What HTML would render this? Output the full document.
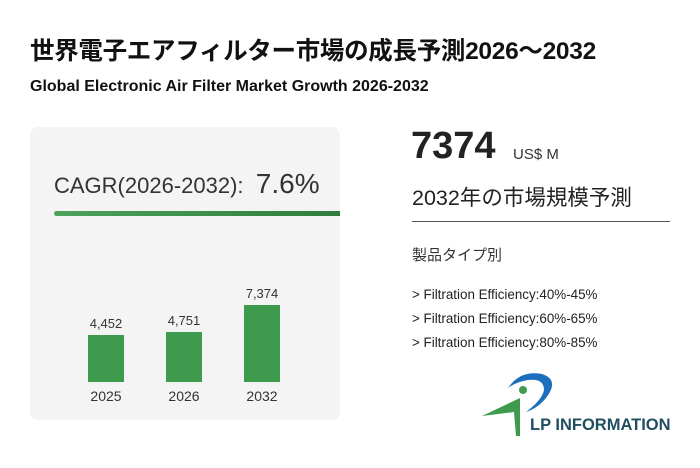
<!DOCTYPE html>
<html><head><meta charset="utf-8"><style>
body{margin:0;width:700px;height:468px;background:#fff;position:relative;overflow:hidden;font-family:"Liberation Sans","Noto Sans CJK JP",sans-serif;color:#222}
.a{position:absolute;white-space:nowrap}
</style></head><body>
<div class="a" style="left:30px;top:32px;font-size:24.5px;font-weight:bold;color:#111;letter-spacing:-0.3px">世界電子エアフィルター市場の成長予測2026～2032</div>
<div class="a" style="left:30px;top:78px;font-size:16px;font-weight:bold;color:#111">Global Electronic Air Filter Market Growth 2026-2032</div>
<div class="a" style="left:30px;top:127px;width:310px;height:293px;background:#f4f4f4;border-radius:8px"></div>
<div class="a" style="left:54px;top:168px;font-size:22px;color:#333">CAGR(2026-2032):&nbsp; <span style="font-size:28px">7.6%</span></div>
<div class="a" style="left:54px;top:211px;width:286px;height:5px;background:linear-gradient(90deg,#4ca35a,#2e7d3c);border-radius:3px 0 0 3px"></div>
<div class="a" style="left:88px;top:335px;width:36px;height:47px;background:#3e9a4d"></div>
<div class="a" style="left:166px;top:332px;width:36px;height:50px;background:#3e9a4d"></div>
<div class="a" style="left:244px;top:305px;width:36px;height:77px;background:#3e9a4d"></div>
<div class="a" style="left:76px;top:316px;width:60px;text-align:center;font-size:13px;color:#333">4,452</div>
<div class="a" style="left:154px;top:313px;width:60px;text-align:center;font-size:13px;color:#333">4,751</div>
<div class="a" style="left:232px;top:286px;width:60px;text-align:center;font-size:13px;color:#333">7,374</div>
<div class="a" style="left:76px;top:388px;width:60px;text-align:center;font-size:14px;color:#333">2025</div>
<div class="a" style="left:154px;top:388px;width:60px;text-align:center;font-size:14px;color:#333">2026</div>
<div class="a" style="left:232px;top:388px;width:60px;text-align:center;font-size:14px;color:#333">2032</div>
<div class="a" style="left:411px;top:125px;font-size:38px;font-weight:bold;color:#222">7374</div>
<div class="a" style="left:513px;top:146px;font-size:15px;color:#333">US$ M</div>
<div class="a" style="left:412px;top:181px;font-size:21.5px;color:#222">2032年の市場規模予測</div>
<div class="a" style="left:412px;top:221px;width:258px;height:1px;background:#555"></div>
<div class="a" style="left:412px;top:244px;font-size:15px;color:#333">製品タイプ別</div>
<div class="a" style="left:412px;top:287px;font-size:13.4px;color:#222">&gt; Filtration Efficiency:40%-45%</div>
<div class="a" style="left:412px;top:311px;font-size:13.4px;color:#222">&gt; Filtration Efficiency:60%-65%</div>
<div class="a" style="left:412px;top:335px;font-size:13.4px;color:#222">&gt; Filtration Efficiency:80%-85%</div>
<svg class="a" style="left:480px;top:368px" width="80" height="72">
<path d="M28 20 Q40 2 62 6 Q80 12 66 30 Q58 40 46 44 Q62 32 64 22 Q64 10 48 12 Q36 14 28 20Z" fill="#1d6fbd"/>
<circle cx="43" cy="22" r="4" fill="#3e9a4d"/>
<path d="M2 48 L40 30 L40 68 L36 68 L34 44 Z" fill="#3e9a4d"/>
</svg>
<div class="a" style="left:530px;top:416px;font-size:16.5px;font-weight:bold;color:#1f4e5f">LP INFORMATION</div>
</body></html>
